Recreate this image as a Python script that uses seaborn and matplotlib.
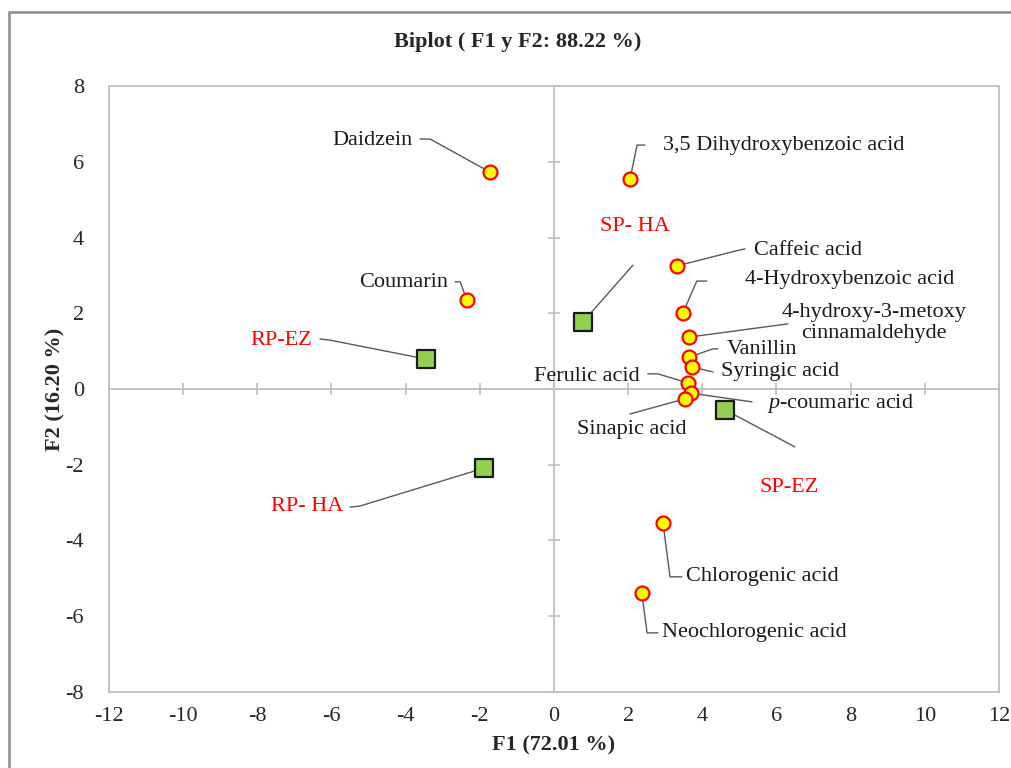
import numpy as np
import pandas as pd
import matplotlib
matplotlib.use("Agg")
import matplotlib.pyplot as plt
import seaborn as sns
from matplotlib.patches import Rectangle

# 化合物（圆点）
compounds = ["Daidzein", "3,5 Dihydroxybenzoic acid", "Caffeic acid", "Coumarin",
             "4-Hydroxybenzoic acid", "4-hydroxy-3-metoxy\ncinnamaldehyde", "Vanillin",
             "Syringic acid", "Ferulic acid", "$\\it{p}$-coumaric acid", "Sinapic acid",
             "Chlorogenic acid", "Neochlorogenic acid"]
comp_f1 = [-1.73, 2.05, 3.32, -2.35, 3.48, 3.64, 3.64, 3.72, 3.61, 3.69, 3.53, 2.94, 2.37]
comp_f2 = [5.73, 5.54, 3.25, 2.35, 2.01, 1.37, 0.84, 0.58, 0.16, -0.11, -0.26, -3.54, -5.39]

# 样品（方块）
samples = ["SP- HA", "RP-EZ", "SP-EZ", "RP- HA"]
samp_f1 = [0.78, -3.45, 4.61, -1.89]
samp_f2 = [1.77, 0.79, -0.55, -2.09]

ticks_x = list(range(-12, 13, 2))
ticks_y = list(range(-8, 9, 2))

# 标签位置与引线折点 (数据坐标)
label_pos = {
    "Daidzein": (-3.80, 6.57, "right", [(-3.61, 6.60), (-3.34, 6.60)]),
    "3,5 Dihydroxybenzoic acid": (2.94, 6.42, "left", [(2.45, 6.44), (2.24, 6.44)]),
    "Caffeic acid": (5.39, 3.67, "left", [(5.15, 3.70), (4.88, 3.64)]),
    "Coumarin": (-2.86, 2.80, "right", [(-2.67, 2.83), (-2.53, 2.83)]),
    "4-Hydroxybenzoic acid": (5.15, 2.88, "left", [(4.12, 2.85), (3.85, 2.85)]),
    "4-hydroxy-3-metoxy\ncinnamaldehyde": (8.62, 1.74, "center", [(6.31, 1.72)]),
    "Vanillin": (4.66, 1.03, "left", [(4.42, 1.06), (4.29, 1.06)]),
    "Syringic acid": (4.50, 0.45, "left", [(4.29, 0.45)]),
    "Ferulic acid": (2.32, 0.34, "right", [(2.53, 0.40), (2.80, 0.40)]),
    "$\\it{p}$-coumaric acid": (5.74, -0.37, "left", [(5.34, -0.34)]),
    "Sinapic acid": (2.10, -1.08, "center", [(2.05, -0.66)]),
    "Chlorogenic acid": (3.56, -4.96, "left", [(3.45, -4.96), (3.13, -4.96)]),
    "Neochlorogenic acid": (2.91, -6.44, "left", [(2.80, -6.44), (2.51, -6.44)]),
    "SP- HA": (2.18, 4.28, "center", [(2.13, 3.27)]),
    "RP-EZ": (-6.52, 1.29, "right", [(-6.31, 1.32), (-6.04, 1.29)]),
    "SP-EZ": (6.33, -2.61, "center", [(6.50, -1.53)]),
    "RP- HA": (-5.69, -3.09, "right", [(-5.50, -3.12), (-5.23, -3.09)]),
}

df_c = pd.DataFrame({"name": compounds, "F1": comp_f1, "F2": comp_f2})
df_s = pd.DataFrame({"name": samples, "F1": samp_f1, "F2": samp_f2})

sns.set_style("white")
plt.rcParams['font.family'] = ['Liberation Serif', 'DejaVu Serif']
plt.rcParams['mathtext.fontset'] = 'custom'
plt.rcParams['mathtext.rm'] = 'Liberation Serif'
plt.rcParams['mathtext.it'] = 'Liberation Serif:italic'
plt.rcParams['axes.unicode_minus'] = False

fig = plt.figure(figsize=(10.11, 7.68), dpi=100)
ax = fig.add_axes([0.1078, 0.099, 0.8803, 0.789])

axis_gray = "#BFBFBF"
lead_gray = "#595959"

# 零轴与刻度
ax.axhline(0, color=axis_gray, lw=1.3, zorder=1)
ax.axvline(0, color=axis_gray, lw=1.3, zorder=1)
ax.plot(ticks_x, [0] * len(ticks_x), ls="none", marker="|", ms=9, mew=1.2, color=axis_gray, zorder=1)
ax.plot([0] * len(ticks_y), ticks_y, ls="none", marker="_", ms=9, mew=1.2, color=axis_gray, zorder=1)

# 引线
for df in (df_c, df_s):
    for _, r in df.iterrows():
        tx, ty, ha, pts = label_pos[r["name"]]
        xs = [p[0] for p in pts] + [r["F1"]]
        ys = [p[1] for p in pts] + [r["F2"]]
        ax.plot(xs, ys, color=lead_gray, lw=1.0, zorder=2)

sns.scatterplot(data=df_c, x="F1", y="F2", ax=ax, marker="o", s=100,
                color="#FFFF00", edgecolor="#FF0000", linewidth=1.6, zorder=3)
sns.scatterplot(data=df_s, x="F1", y="F2", ax=ax, marker="s", s=150,
                color="#92D050", edgecolor="#1a1a1a", linewidth=1.6, zorder=3)

# 标签
for df, col in ((df_c, "#1a1a1a"), (df_s, "#FF0000")):
    for _, r in df.iterrows():
        tx, ty, ha, pts = label_pos[r["name"]]
        ax.text(tx, ty, r["name"], ha=ha, va="center", fontsize=16, color=col,
                linespacing=1.2, zorder=4)

ax.set_xlim(-12, 12)
ax.set_ylim(-8, 8)
ax.set_xticks(ticks_x)
ax.set_yticks(ticks_y)
ax.tick_params(length=0, labelsize=16, pad=11)
ax.tick_params(axis="y", pad=18)
for sp in ax.spines.values():
    sp.set_color(axis_gray)
    sp.set_linewidth(1.3)

ax.set_xlabel("F1 (72.01 %)", fontsize=16, fontweight="bold", labelpad=7)
ax.set_ylabel("F2 (16.20 %)", fontsize=16, fontweight="bold")
ax.yaxis.set_label_coords(-0.049, 0.5)
fig.text(0.512, 1 - 42 / 768, "Biplot ( F1 y F2: 88.22 %)", ha="center", va="center",
         fontsize=16, fontweight="bold")

# 图框
fig.patches.append(Rectangle((9 / 1011, -0.1), 1.2, 1.1 - 12 / 768, transform=fig.transFigure,
                             fill=False, edgecolor="#8c8c8c", lw=1.8))

fig.savefig("out.png", dpi=100)
